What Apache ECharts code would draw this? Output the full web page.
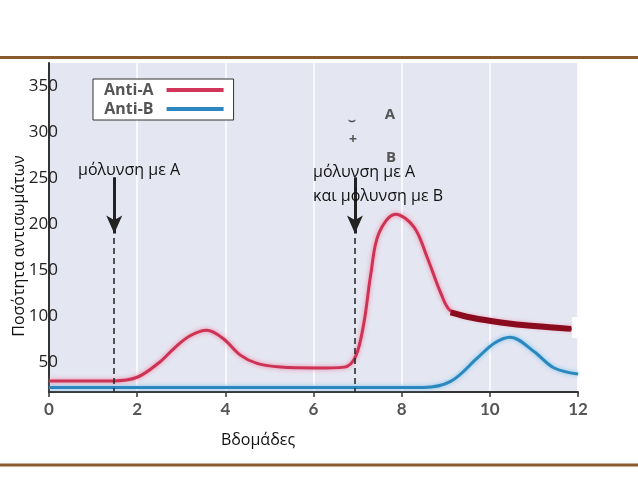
<!DOCTYPE html>
<html>
<head>
<meta charset="utf-8">
<script src="https://cdn.jsdelivr.net/npm/echarts@6/dist/echarts.min.js"></script>
<style>
  html, body { margin: 0; padding: 0; background: #fff; }
  #chart { width: 638px; height: 479px; }
</style>
</head>
<body>
<div id="chart"></div>
<script>
// Anti-A (red curve): weeks / level
var antiAWeeks = [0, 1.45, 2, 2.5, 2.85, 3.2, 3.58, 3.95, 4.34, 4.72, 5.25, 6.08, 6.7, 6.95, 7.14, 7.3, 7.48, 7.86, 8.28, 8.58, 8.89, 9.11, 9.6, 10.25, 11, 12];
var antiAValues = [30, 30, 34, 50, 66, 79, 85, 76, 58, 49, 45, 44, 45, 56, 92, 146, 190, 211, 197, 164, 125, 106, 99, 94, 90, 86];
// dark red overlay after week 9
var tailWeeks = [9.11, 9.6, 10.25, 11, 11.84];
var tailValues = [104.5, 98.5, 93.5, 89.5, 86.5];
// Anti-B (blue curve)
var antiBWeeks = [0, 8.5, 9.11, 9.72, 10.1, 10.46, 11, 11.46, 12];
var antiBValues = [23, 23, 29.5, 55, 71, 77.5, 62, 44, 37.5];

var xTicks = [0, 2, 4, 6, 8, 10, 12];
var yTicks = [50, 100, 150, 200, 250, 300, 350];
var infectionWeeks = [1.48, 6.94];

function pairs(xs, ys) {
  return xs.map(function (x, i) { return [x, ys[i]]; });
}

var chart = echarts.init(document.getElementById('chart'));

var arrows = [];
infectionWeeks.forEach(function (w) {
  arrows.push([{coord: [w, 251], symbol: 'none'}, {coord: [w, 190], symbol: 'arrow', symbolSize: [12, 18],
    lineStyle: {type: 'solid', width: 3}}]);
  arrows.push([{coord: [w, 185], symbol: 'none'}, {coord: [w, 18], symbol: 'none',
    lineStyle: {type: [6, 4], width: 1.5}}]);
});

var txt = '16px "Open Sans"';

chart.setOption({
  animation: false,
  backgroundColor: '#fff',
  grid: {left: 49, right: 60, top: 63, bottom: 87, show: true, backgroundColor: '#e4e6f1', borderWidth: 0},
  legend: {
    data: ['Anti-A', 'Anti-B'],
    orient: 'vertical',
    left: 93, top: 79,
    align: 'right',
    icon: 'rect',
    itemWidth: 57, itemHeight: 4, itemGap: 3,
    padding: [3, 10, 3, 11],
    backgroundColor: '#fff',
    borderColor: '#333', borderWidth: 1, borderRadius: 0,
    textStyle: {fontFamily: 'Open Sans', fontWeight: 'bold', fontSize: 16, color: '#555', padding: [0, 8, 0, 0]}
  },
  xAxis: {
    type: 'value', min: 0, max: 12, interval: 2,
    axisLine: {lineStyle: {color: '#333', width: 2}},
    axisTick: {show: true, length: 5, lineStyle: {color: '#333', width: 1.5}},
    axisLabel: {fontFamily: 'Lato', fontWeight: 'bold', fontSize: 17, color: '#555', margin: 9,
      formatter: function (v) { return xTicks.indexOf(v) >= 0 ? String(v) : ''; }},
    splitLine: {show: true, lineStyle: {color: '#fff', width: 1.5}}
  },
  yAxis: {
    type: 'value', min: 18, max: 375,
    axisLine: {show: true, lineStyle: {color: '#333', width: 2}},
    axisTick: {show: false},
    axisLabel: {customValues: yTicks, fontFamily: 'Open Sans', fontSize: 17, color: '#222', margin: -9},
    splitLine: {show: false}
  },
  series: [
    {
      name: 'Anti-B', type: 'line', data: pairs(antiBWeeks, antiBValues),
      smooth: 0.35, symbol: 'none', color: '#2a88be',
      lineStyle: {width: 3, color: '#2a88be', shadowColor: 'rgba(110,190,235,0.9)', shadowBlur: 4},
      z: 3,
      markLine: {silent: true, animation: false, symbol: 'none', label: {show: false},
        lineStyle: {color: '#222'}, data: arrows}
    },
    {
      name: 'Anti-A', type: 'line', data: pairs(antiAWeeks, antiAValues),
      smooth: 0.35, symbol: 'none', color: '#d2345a',
      lineStyle: {width: 3, color: '#cc3355', shadowColor: 'rgba(245,120,150,0.9)', shadowBlur: 4},
      z: 4
    },
    {
      name: 'tail', type: 'line', data: pairs(tailWeeks, tailValues),
      smooth: 0.35, symbol: 'none', color: '#8a0a1e',
      lineStyle: {width: 6, color: '#8a0a1e'}, z: 5
    }
  ],
  graphic: [
    {type: 'line', shape: {x1: 0, y1: 57.5, x2: 638, y2: 57.5}, style: {stroke: '#8a5a2c', lineWidth: 3}},
    {type: 'line', shape: {x1: 0, y1: 465, x2: 638, y2: 465}, style: {stroke: '#8a5a2c', lineWidth: 3}},
    {type: 'rect', shape: {x: 572, y: 317, width: 8, height: 21}, style: {fill: '#fff'}, z: 10},
    {type: 'text', x: 78, y: 170, style: {text: 'μόλυνση με Α', font: txt, fill: '#111', textVerticalAlign: 'middle'}, z: 10},
    {type: 'text', x: 313, y: 172, style: {text: 'μόλυνση με Α', font: txt, fill: '#111', textVerticalAlign: 'middle'}, z: 10},
    {type: 'text', x: 313, y: 196, style: {text: 'και μόλυνση με Β', font: txt, fill: '#111', textVerticalAlign: 'middle'}, z: 10},
    {type: 'text', x: 258, y: 440, style: {text: 'Βδομάδες', font: txt, fill: '#111', textAlign: 'center', textVerticalAlign: 'middle'}, z: 10},
    {type: 'text', x: 19, y: 246, rotation: Math.PI / 2, style: {text: 'Ποσότητα αντισωμάτων', font: txt, fill: '#111', textAlign: 'center', textVerticalAlign: 'middle'}, z: 10},
    {type: 'text', x: 390, y: 115, style: {text: 'A', font: 'bold 15px "Open Sans"', fill: '#555', textAlign: 'center', textVerticalAlign: 'middle'}, z: 10},
    {type: 'text', x: 352, y: 121, style: {text: '⌣', font: 'bold 12px "DejaVu Sans"', fill: '#555', textAlign: 'center', textVerticalAlign: 'middle'}, z: 10},
    {type: 'text', x: 353, y: 140, style: {text: '+', font: 'bold 14px "Open Sans"', fill: '#555', textAlign: 'center', textVerticalAlign: 'middle'}, z: 10},
    {type: 'text', x: 391, y: 158, style: {text: 'B', font: 'bold 15px "Open Sans"', fill: '#555', textAlign: 'center', textVerticalAlign: 'middle'}, z: 10}
  ]
});
</script>
</body>
</html>
